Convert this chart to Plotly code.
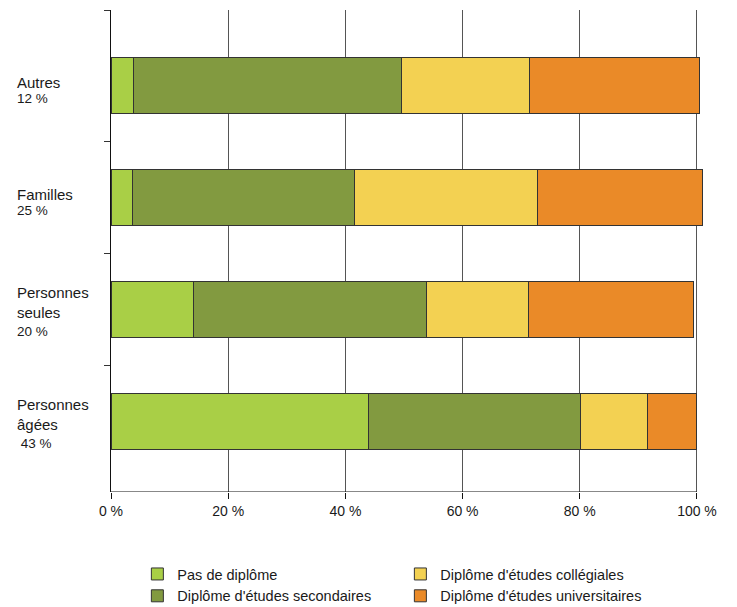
import plotly.graph_objects as go

# Data (bottom to top on the chart)
groups = ["Personnes<br>âgées", "Personnes<br>seules", "Familles", "Autres"]
shares = [" 43 %", "20 %", "25 %", "12 %"]

series_names = [
    "Pas de diplôme",
    "Diplôme d'études secondaires",
    "Diplôme d'études collégiales",
    "Diplôme d'études universitaires",
]
pas_diplome = [44.0, 14.0, 3.6, 3.9]
secondaires = [36.1, 39.9, 38.0, 45.6]
collegiales = [11.4, 17.3, 31.1, 22.0]
universitaires = [8.5, 28.2, 28.2, 29.0]

x_tick_vals = [0, 20, 40, 60, 80, 100]
x_tick_text = ["0 %", "20 %", "40 %", "60 %", "80 %", "100 %"]

colors = ["#A9CF46", "#829A40", "#F3D152", "#EA8A28"]
legend_ranks = [1, 3, 2, 4]

FONT = "Liberation Sans, Arial, sans-serif"
TXT = "#1a1a1a"

ypos = list(range(len(groups)))
fig = go.Figure()
for name, vals, col, rank in zip(series_names,
                                 [pas_diplome, secondaires, collegiales, universitaires],
                                 colors, legend_ranks):
    fig.add_trace(go.Bar(
        y=ypos, x=vals, name=name, orientation="h",
        width=0.5,
        marker=dict(color=col, line=dict(color="#333333", width=1)),
        legendrank=rank,
    ))

x_hi = 101.2
plot_w = 586 * x_hi / 100
y_lo, y_hi = -0.634, 3.67
fig.update_layout(
    width=737, height=607,
    margin=dict(l=111, r=737 - 111 - plot_w, t=10, b=115, autoexpand=False),
    plot_bgcolor="white", paper_bgcolor="white",
    barmode="stack",
    font=dict(family=FONT, size=14, color=TXT),
    showlegend=True,
    legend=dict(
        orientation="h", x=0.045 * 100 / x_hi, xanchor="left", y=-0.137, yanchor="top",
        entrywidth=218, entrywidthmode="pixels",
        font=dict(size=14.5, family=FONT, color=TXT),
        itemwidth=30, tracegroupgap=0, traceorder="normal",
    ),
    xaxis=dict(
        range=[0, x_hi], tickvals=x_tick_vals, ticktext=x_tick_text,
        showgrid=True, gridcolor="#555555", gridwidth=1,
        showline=False,
        ticks="outside", ticklen=6, tickcolor="#111111",
        tickfont=dict(size=14, family=FONT, color=TXT),
        zeroline=False, fixedrange=True,
    ),
    yaxis=dict(
        range=[y_lo, y_hi],
        tickvals=[0.5, 1.5, 2.5, y_hi], ticktext=["", "", "", ""],
        ticks="outside", ticklen=6, tickcolor="#333333",
        showline=True, linecolor="#111111", linewidth=1,
        showgrid=False, zeroline=False, fixedrange=True,
    ),
)

# x-axis baseline, from just left of the y axis to 100 %
fig.add_shape(type="line", xref="x", yref="y", x0=-1.0, x1=100, y0=y_lo, y1=y_lo,
              line=dict(color="#111111", width=1), layer="above")

label_x = (15 - 111) / plot_w
for yi, (g, s) in enumerate(zip(groups, shares)):
    nlines = g.count("<br>") + 1
    if nlines == 1:
        name_shift, pct_shift = 3, -13
    else:
        name_shift, pct_shift = 7, -22
    fig.add_annotation(x=label_x, xref="paper", y=yi, yref="y", text=g,
                       xanchor="left", yanchor="middle", align="left", showarrow=False,
                       yshift=name_shift, font=dict(size=15, family=FONT, color=TXT))
    fig.add_annotation(x=label_x, xref="paper", y=yi, yref="y", text=s,
                       xanchor="left", yanchor="middle", align="left", showarrow=False,
                       yshift=pct_shift, font=dict(size=13.5, family=FONT, color=TXT))

fig.write_html(
    "out.html",
    config={"displayModeBar": False},
    post_script="document.body.style.margin='0';document.body.style.overflow='hidden';",
)
